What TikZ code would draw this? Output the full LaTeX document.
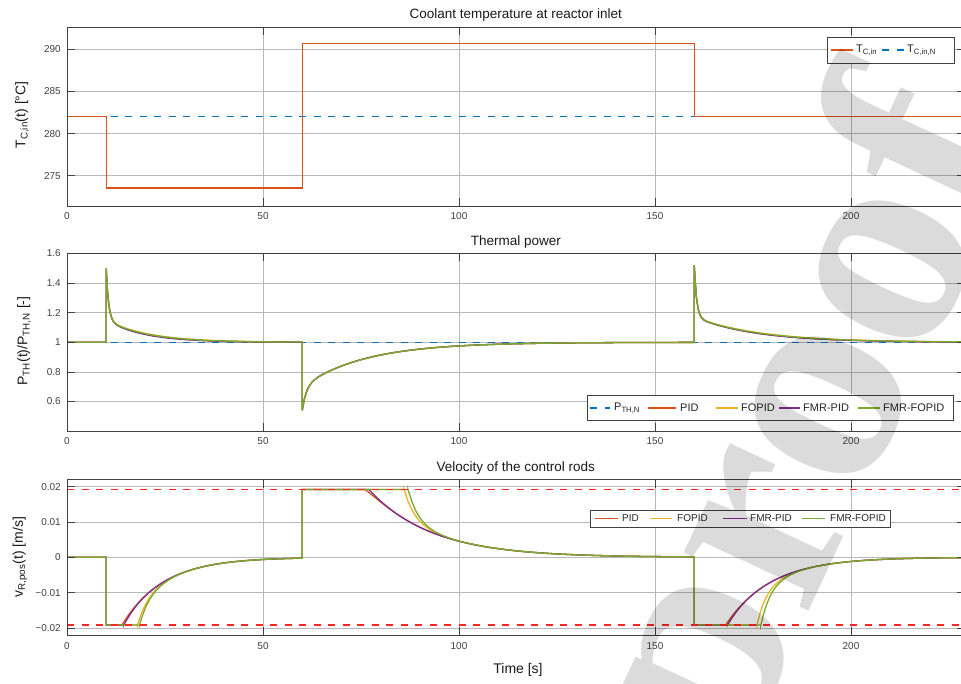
\documentclass[tikz,border=0pt]{standalone}
\usepackage{fontspec}
\setmainfont{Liberation Sans}
\newfontfamily\wmfont{Liberation Serif}

\definecolor{mblue}{rgb}{0,0.447,0.741}
\definecolor{morange}{rgb}{0.85,0.325,0.098}
\definecolor{myellow}{rgb}{0.929,0.694,0.125}
\definecolor{mpurple}{rgb}{0.494,0.184,0.556}
\definecolor{mgreen}{rgb}{0.466,0.674,0.188}

\newcommand{\fsz}[1]{\fontsize{#1}{#1}\selectfont}

% thermal power: style, slow decay after first and last step
\newcommand{\powline}[3]{%
  \draw[#1] (0,0) -- (10,0)
    -- plot[domain=10:60, samples=160] (\x, {0.35*exp(-(\x-10)/0.6)+0.15*exp(-(\x-10)/#2)})
    -- plot[domain=60:160, samples=160] (\x, {-0.16*exp(-(\x-60))-0.3*exp(-(\x-60)/16)})
    -- plot[domain=160:229, samples=140] (\x, {0.35*exp(-(\x-160)/0.6)+0.17*exp(-(\x-160)/#3)});
}

% rod velocity: style, end of the three saturations
\newcommand{\velline}[4]{%
  \draw[#1] (0,0) -- (10,0) -- (10,-1.92) -- (#2,-1.92)
    -- plot[domain=#2:60, samples=80] (\x, {-1.92*exp(-(\x-14)/10.5)*(1+(exp((#2-14)/10.5)-1)*exp(-(\x-#2)/3))})
    -- (60,1.92) -- (#3,1.92)
    -- plot[domain=#3:160, samples=80] (\x, {1.92*exp(-(\x-77)/16)*(1+(exp((#3-77)/16)-1)*exp(-(\x-#3)/3))})
    -- (160,-1.92) -- (#4,-1.92)
    -- plot[domain=#4:229, samples=70] (\x, {-1.92*exp(-(\x-168)/11.5)*(1+(exp((#4-168)/11.5)-1)*exp(-(\x-#4)/3))});
}

\begin{document}
\begin{tikzpicture}[x=1pt, y=1pt,
  axframe/.style={draw=black!75, line width=0.6pt},
  gridln/.style={draw=black!28, line width=0.5pt},
  tickln/.style={draw=black!75, line width=0.6pt},
  ticklab/.style={font=\fsz{10}, text=black!75, inner sep=2pt},
  axtitle/.style={font=\fsz{13.5}, text=black!90},
  axlabel/.style={font=\fsz{14}, text=black!90, rotate=90},
  lgbox/.style={draw=black!75, fill=white, line width=0.6pt},
  lgtext/.style={font=\fsz{11}, text=black!85, inner sep=1pt},
  pid/.style={morange, line width=1.3pt},
  fopid/.style={myellow, line width=1.3pt},
  fmrpid/.style={mpurple, line width=1.3pt},
  fmrfopid/.style={mgreen, line width=1.3pt},
  refln/.style={mblue, dash pattern=on 7pt off 7.5pt, line width=1.3pt},
  limln/.style={red!85, dash pattern=on 7pt off 7.5pt, line width=1.3pt},
  tcin/.style={morange, line width=1.3pt}
]
\path[use as bounding box] (0,0) rectangle (961,684);
\clip (0,0) rectangle (961,684);

% Coolant temperature
\begin{scope}[shift={(67pt,634.7pt)}, x=3.92pt, y=8.43pt]
  \foreach \tx in {50,100,150,200} \draw[gridln] (\tx,-18.59) -- (\tx,2.645);
  \foreach \yv in {-15,-10,-5,0} \draw[gridln] (0,\yv) -- (229,\yv);
  \draw[refln] (0,-8) -- (229,-8);
  \draw[tcin] (0,-8) -- (10,-8) -- (10,-16.45) -- (60,-16.45) -- (60,0.7) -- (160,0.7) -- (160,-8) -- (229,-8);
  \draw[axframe] (0,-18.59) rectangle (229,2.645);
  \foreach \tx in {0,50,100,150,200} {
    \draw[tickln] (\tx,-18.59) -- ++(0pt,8pt);
    \draw[tickln] (\tx,2.645) -- ++(0pt,-8pt);
    \node[ticklab, below=4pt] at (\tx,-18.59) {\tx};
  }
  \foreach \yv/\lab in {-15/275,-10/280,-5/285,0/290} {
    \draw[tickln] (0,\yv) -- ++(8pt,0pt);
    \draw[tickln] (229,\yv) -- ++(-8pt,0pt);
    \node[ticklab, left=4pt] at (0,\yv) {\lab};
  }
  \node[axtitle, above=2pt] (ttemp) at (114.5,2.645) {Coolant temperature at reactor inlet};
\end{scope}

% Thermal power
\begin{scope}[shift={(67pt,341.7pt)}, x=3.92pt, y=148pt]
  \foreach \tx in {50,100,150,200} \draw[gridln] (\tx,-0.6) -- (\tx,0.6);
  \foreach \yv in {-0.4,-0.2,0,0.2,0.4} \draw[gridln] (0,\yv) -- (229,\yv);
  \draw[refln] (0,0) -- (229,0);
  \powline{pid}{10}{16}
  \powline{fopid}{11}{17}
  \powline{fmrpid}{9.5}{15.5}
  \powline{fmrfopid}{10.5}{16.5}
  \draw[axframe] (0,-0.6) rectangle (229,0.6);
  \foreach \tx in {0,50,100,150,200} {
    \draw[tickln] (\tx,-0.6) -- ++(0pt,8pt);
    \draw[tickln] (\tx,0.6) -- ++(0pt,-8pt);
    \node[ticklab, below=4pt] at (\tx,-0.6) {\tx};
  }
  \foreach \yv/\lab in {-0.4/0.6,-0.2/0.8,0/1,0.2/1.2,0.4/1.4,0.6/1.6} {
    \draw[tickln] (0,\yv) -- ++(8pt,0pt);
    \draw[tickln] (229,\yv) -- ++(-8pt,0pt);
    \node[ticklab, left=4pt] at (0,\yv) {\lab};
  }
  \node[axtitle, above=2pt] (tpow) at (114.5,0.6) {Thermal power};
\end{scope}

% Velocity of the rods
\begin{scope}[shift={(67pt,126.7pt)}, x=3.92pt, y=35.3pt]
  \foreach \tx in {50,100,150,200} \draw[gridln] (\tx,-2.2) -- (\tx,2.2);
  \foreach \yv in {-2,-1,0,1,2} \draw[gridln] (0,\yv) -- (229,\yv);
  \velline{pid}{14}{76}{168}
  \velline{fopid}{18}{86}{176}
  \velline{fmrpid}{14.5}{77}{168.5}
  \velline{fmrfopid}{18.5}{87}{177}
  \draw[limln] (0,1.92) -- (229,1.92);
  \draw[limln] (0,-1.92) -- (229,-1.92);
  \draw[axframe] (0,-2.2) rectangle (229,2.2);
  \foreach \tx in {0,50,100,150,200} {
    \draw[tickln] (\tx,-2.2) -- ++(0pt,8pt);
    \draw[tickln] (\tx,2.2) -- ++(0pt,-8pt);
    \node[ticklab, below=5pt] at (\tx,-2.2) {\tx};
  }
  \foreach \yv/\lab in {-2/−0.02,-1/−0.01,0/0,1/0.01,2/0.02} {
    \draw[tickln] (0,\yv) -- ++(8pt,0pt);
    \draw[tickln] (229,\yv) -- ++(-8pt,0pt);
    \node[ticklab, left=4pt] at (0,\yv) {\lab};
  }
  \node[axtitle, above=2pt] (tvel) at (114.5,2.2) {Velocity of the control rods};
\end{scope}

% Axis labels
\node[axlabel] (ytemp) at (22,569) {T\textsubscript{C,in}(t) [°C]};
\node[axlabel] (ypow) at (24,343) {P\textsubscript{TH}(t)/P\textsubscript{TH,N} [-]};
\node[axlabel] (yvel) at (20,127) {v\textsubscript{R,pos}(t) [m/s]};
\node[font=\fsz{14}, text=black!90] (xtime) at (518,14) {Time [s]};

% Legends
\draw[lgbox] (827,621) rectangle (954,647);
\draw[tcin] (831,634) -- (853,634);
\node[lgtext, anchor=west] (ltc) at (855,634) {T\textsubscript{C,in}};
\draw[refln] (882,634) -- (904,634);
\node[lgtext, anchor=west] (ltcn) at (906,634) {T\textsubscript{C,in,N}};

\draw[lgbox] (587,264) rectangle (953,289);
\draw[refln] (590,276) -- (610,276);
\node[lgtext, anchor=west] (lpn) at (613,276) {P\textsubscript{TH,N}};
\draw[pid] (648,276) -- (676,276);
\node[lgtext, anchor=west] (lp1) at (679,276) {PID};
\draw[fopid] (716,276) -- (738,276);
\node[lgtext, anchor=west] (lp2) at (740,276) {FOPID};
\draw[fmrpid] (779,276) -- (800,276);
\node[lgtext, anchor=west] (lp3) at (802,276) {FMR-PID};
\draw[fmrfopid] (858,276) -- (880,276);
\node[lgtext, anchor=west] (lp4) at (882,276) {FMR-FOPID};

\draw[lgbox] (590,157) rectangle (890,174);
\draw[pid] (595,165.5) -- (618,165.5);
\node[lgtext, font=\fsz{10}, anchor=west] (lv1) at (621,165.5) {PID};
\draw[fopid] (650,165.5) -- (672,165.5);
\node[lgtext, font=\fsz{10}, anchor=west] (lv2) at (676,165.5) {FOPID};
\draw[fmrpid] (723,165.5) -- (747,165.5);
\node[lgtext, font=\fsz{10}, anchor=west] (lv3) at (749,165.5) {FMR-PID};
\draw[fmrfopid] (802,165.5) -- (825,165.5);
\node[lgtext, font=\fsz{10}, anchor=west] (lv4) at (829,165.5) {FMR-FOPID};

% Watermark
\node[font=\wmfont\bfseries\fsz{300}, text=black, text opacity=0.14, rotate=65, anchor=base east, inner sep=0pt] (wmark) at (1029,544) {Journal Pre-proof};
\end{tikzpicture}
\end{document}
